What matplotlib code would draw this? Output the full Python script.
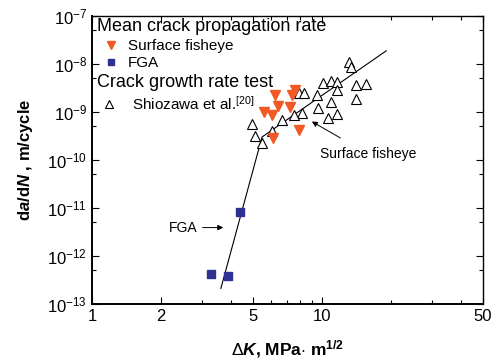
import matplotlib
matplotlib.use('Agg')
import matplotlib.pyplot as plt
from matplotlib.ticker import FixedLocator, FixedFormatter, NullFormatter

plt.rcParams['font.family'] = ['Liberation Sans', 'DejaVu Sans']
plt.rcParams['mathtext.fontset'] = 'custom'
plt.rcParams['mathtext.rm'] = 'Liberation Sans'
plt.rcParams['mathtext.it'] = 'Liberation Sans:italic'
plt.rcParams['mathtext.bf'] = 'Liberation Sans:bold'
plt.rcParams['mathtext.bfit'] = 'Liberation Sans:bold:italic'

# Mean crack propagation rate - surface fisheye
fish_dk = [6.22, 7.38, 7.63, 6.44, 7.26, 5.61, 6.04, 7.97, 6.14]
fish_rate = [2.26e-9, 2.23e-9, 2.81e-9, 1.33e-9, 1.24e-9, 9.9e-10, 8.5e-10, 4.3e-10, 2.8e-10]

# Mean crack propagation rate - FGA
fga_dk = [4.40, 3.28, 3.88]
fga_rate = [8.1e-12, 4.2e-13, 3.8e-13]

# Crack growth rate test (Shiozawa et al.)
shio_dk = [13.06, 13.33, 10.07, 10.95, 11.65, 11.59, 14.06, 15.49, 14.06, 7.94, 8.38,
           9.48, 10.95, 9.58, 10.59, 11.65, 8.16, 7.55, 6.68, 4.96, 5.11, 6.04, 5.50]
shio_rate = [1.12e-8, 8.5e-9, 4.0e-9, 4.4e-9, 4.2e-9, 2.9e-9, 3.7e-9, 3.9e-9, 1.9e-9,
             2.5e-9, 2.5e-9, 2.3e-9, 1.6e-9, 1.2e-9, 7.4e-10, 9.1e-10, 9.4e-10, 8.7e-10,
             6.8e-10, 5.6e-10, 3.2e-10, 4.1e-10, 2.2e-10]

# fitted bilinear line
fit_dk = [3.63, 5.48, 18.97]
fit_rate = [2.1e-13, 3.0e-10, 1.87e-8]

# ticks
x_ticks = [1, 2, 5, 10, 50]
x_labels = ['1', '2', '5', '10', '50']
x_minor = [3, 4, 6, 7, 8, 9, 20, 30, 40]
y_exp = [-13, -12, -11, -10, -9, -8, -7]

fig = plt.figure(figsize=(4.97, 3.61), dpi=100)
ax = fig.add_axes([0.185, 0.158, 0.787, 0.798])

ax.plot(fit_dk, fit_rate, color='black', lw=0.8, zorder=2)
sh = ax.plot(shio_dk, shio_rate, '^', ms=7.3, mfc='white', mec='black', mew=0.8,
             ls='none', zorder=3)[0]
fi = ax.plot(fish_dk, fish_rate, 'v', ms=7.5, color='#F15A24', mec='#F15A24',
             ls='none', zorder=4)[0]
fg = ax.plot(fga_dk, fga_rate, 's', ms=5.3, color='#2E3192', ls='none', zorder=4)[0]

ax.set_xscale('log')
ax.set_yscale('log')
ax.set_xlim(1, 50)
ax.set_ylim(1e-13, 1e-7)

ax.xaxis.set_major_locator(FixedLocator(x_ticks))
ax.xaxis.set_major_formatter(FixedFormatter(x_labels))
ax.xaxis.set_minor_locator(FixedLocator(x_minor))
ax.xaxis.set_minor_formatter(NullFormatter())
ax.yaxis.set_major_locator(FixedLocator([10.0 ** e for e in y_exp]))
ax.yaxis.set_major_formatter(FixedFormatter(['$10^{%d}$' % e for e in y_exp]))
ax.yaxis.set_minor_locator(FixedLocator([5 * 10.0 ** e for e in y_exp[:-1]]))
ax.yaxis.set_minor_formatter(NullFormatter())

ax.tick_params(which='both', direction='in', top=True, right=True, labelsize=12)
ax.tick_params(which='major', length=5, width=0.8)
ax.tick_params(which='minor', length=3, width=0.8)
for s in ax.spines.values():
    s.set_linewidth(1.0)
ax.spines['left'].set_linewidth(1.4)
ax.spines['bottom'].set_linewidth(1.4)

ax.set_xlabel(r'$\Delta\bfit{K}$, MPa$\cdot$ m$^{\mathbf{1/2}}$', fontsize=12.5,
              fontweight='bold', labelpad=10)
ax.set_ylabel(r'd$\bfit{a}$/d$\bfit{N}$ , m/cycle', fontsize=12, fontweight='bold',
              labelpad=9)

# legend headings and entries
ax.text(0.0123, 0.949, 'Mean crack propagation rate', transform=ax.transAxes,
        fontsize=13, va='baseline', ha='left')
ax.text(0.0123, 0.7524, 'Crack growth rate test', transform=ax.transAxes,
        fontsize=13, va='baseline', ha='left')

entry_kw = dict(loc='center left', frameon=False, fontsize=11, borderpad=0,
                borderaxespad=0, markerscale=0.7, handlelength=0.96)
l1 = ax.legend([fi], ['Surface fisheye'], bbox_to_anchor=(0.0307, 0.895),
               handletextpad=0.6, **entry_kw)
ax.add_artist(l1)
l2 = ax.legend([fg], ['FGA'], bbox_to_anchor=(0.0307, 0.835),
               handletextpad=0.6, **entry_kw)
ax.add_artist(l2)
ax.legend([sh], [r'Shiozawa et al.$^{[20]}$'], bbox_to_anchor=(0.0256, 0.696),
          handletextpad=1.0, **entry_kw)

ax.annotate('Surface fisheye', xy=(9.02, 6.3e-10), xytext=(15.85, 1.33e-10),
            fontsize=10, ha='center', va='center',
            arrowprops=dict(arrowstyle='-|>', color='black', lw=0.7, shrinkA=9,
                            shrinkB=0, mutation_scale=8))
ax.annotate('FGA', xy=(3.72, 3.9e-12), xytext=(2.86, 3.9e-12),
            fontsize=10, ha='right', va='center',
            arrowprops=dict(arrowstyle='-|>', color='black', lw=0.7, shrinkA=2,
                            shrinkB=0, mutation_scale=8))

fig.savefig('out.png', dpi=100)
